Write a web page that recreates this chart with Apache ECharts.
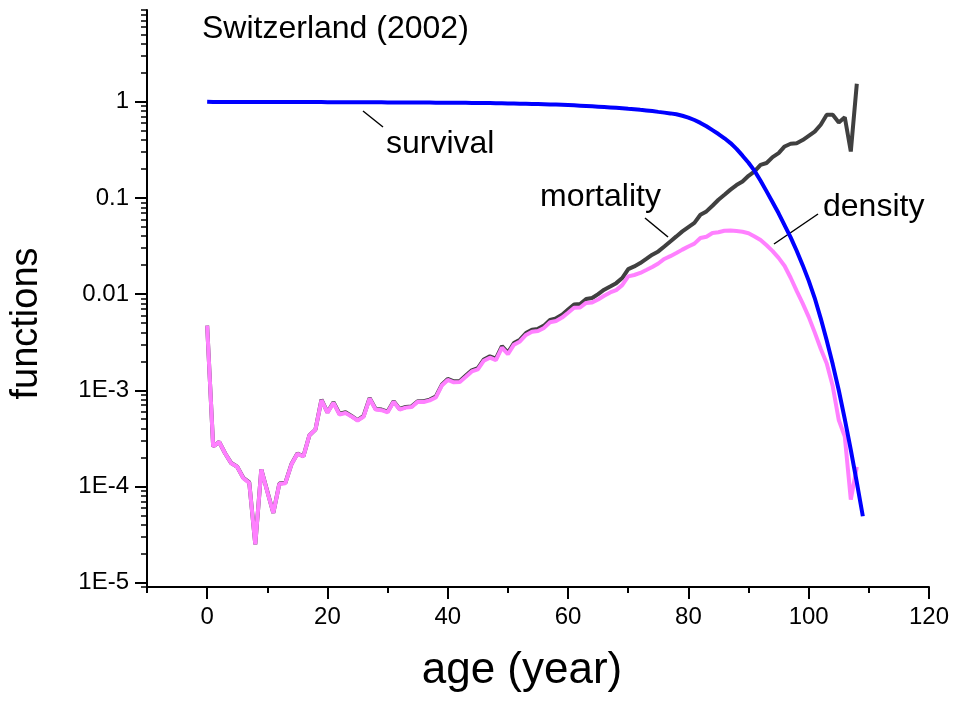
<!DOCTYPE html>
<html>
<head>
<meta charset="utf-8">
<title>Switzerland (2002)</title>
<script src="https://cdn.jsdelivr.net/npm/echarts@6/dist/echarts.min.js"></script>
<style>
  html, body { margin: 0; padding: 0; background: #fff; }
  #chart { width: 958px; height: 702px; }
</style>
</head>
<body>
<div id="chart"></div>
<script>
// ages 0..N, one value per year of age
const survival = [
  1.0, 0.9955, 0.9952, 0.9949, 0.9947, 0.9945, 0.9944, 0.9943, 0.9942, 0.9941,
  0.9940, 0.9939, 0.9938, 0.9937, 0.9935, 0.9933, 0.9931, 0.9928, 0.9924, 0.9918,
  0.9911, 0.9905, 0.9899, 0.9893, 0.9888, 0.9883, 0.9878, 0.9871, 0.9865, 0.9859,
  0.9853, 0.9846, 0.9840, 0.9833, 0.9826, 0.9818, 0.9811, 0.9803, 0.9795, 0.9784,
  0.978, 0.977, 0.976, 0.975, 0.973, 0.972, 0.970, 0.968, 0.966, 0.964,
  0.962, 0.959, 0.956, 0.953, 0.950, 0.947, 0.943, 0.939, 0.935, 0.930,
  0.925, 0.918, 0.911, 0.904, 0.897, 0.889, 0.881, 0.873, 0.865, 0.855,
  0.845, 0.836, 0.824, 0.813, 0.800, 0.785, 0.771, 0.757, 0.741, 0.716,
  0.684, 0.646, 0.603, 0.556, 0.507, 0.462, 0.417, 0.372, 0.324, 0.275,
  0.232, 0.191, 0.151, 0.117, 0.0902, 0.0692, 0.0519, 0.0389, 0.0282, 0.0200,
  0.0138, 0.0091, 0.0056, 0.0033, 0.00186, 0.0010, 5.0e-4, 2.4e-4, 1.1e-4, 4.9e-5
];

const mortality = [
  4.7e-3, 2.6e-4, 2.9e-4, 2.2e-4, 1.75e-4, 1.6e-4, 1.23e-4, 1.1e-4, 2.5e-5, 1.5e-4,
  8.9e-5, 5.3e-5, 1.07e-4, 1.09e-4, 1.7e-4, 2.2e-4, 2.06e-4, 3.4e-4, 3.9e-4, 8.0e-4,
  5.9e-4, 7.5e-4, 5.7e-4, 5.9e-4, 5.4e-4, 4.9e-4, 5.4e-4, 8.3e-4, 6.4e-4, 6.3e-4,
  6.0e-4, 7.7e-4, 6.4e-4, 6.7e-4, 6.8e-4, 7.7e-4, 7.7e-4, 8.0e-4, 8.6e-4, 1.14e-3,
  1.31e-3, 1.24e-3, 1.25e-3, 1.42e-3, 1.61e-3, 1.7e-3, 2.09e-3, 2.25e-3, 2.13e-3, 2.87e-3,
  2.46e-3, 3.1e-3, 3.36e-3, 3.94e-3, 4.27e-3, 4.35e-3, 4.7e-3, 5.4e-3, 5.6e-3, 6.1e-3,
  6.9e-3, 7.8e-3, 7.9e-3, 8.9e-3, 9.1e-3, 0.0100, 0.0111, 0.0120, 0.0130, 0.0147,
  0.0182, 0.0194, 0.0210, 0.0232, 0.0257, 0.0278, 0.0313, 0.0353, 0.0398, 0.0449,
  0.0498, 0.0550, 0.0669, 0.0724, 0.0830, 0.0958, 0.108, 0.122, 0.136, 0.148,
  0.170, 0.189, 0.221, 0.231, 0.266, 0.292, 0.343, 0.366, 0.371, 0.400,
  0.443, 0.490, 0.577, 0.733, 0.733, 0.610, 0.690, 0.304, 1.54
];

const density = [
  4.7e-3, 2.6e-4, 2.9e-4, 2.2e-4, 1.74e-4, 1.6e-4, 1.22e-4, 1.09e-4, 2.5e-5, 1.5e-4,
  8.8e-5, 5.3e-5, 1.06e-4, 1.08e-4, 1.69e-4, 2.19e-4, 2.05e-4, 3.4e-4, 3.9e-4, 7.9e-4,
  5.85e-4, 7.4e-4, 5.6e-4, 5.8e-4, 5.35e-4, 4.85e-4, 5.3e-4, 8.2e-4, 6.3e-4, 6.2e-4,
  5.9e-4, 7.6e-4, 6.3e-4, 6.6e-4, 6.7e-4, 7.6e-4, 7.55e-4, 7.85e-4, 8.4e-4, 1.12e-3,
  1.28e-3, 1.21e-3, 1.22e-3, 1.38e-3, 1.57e-3, 1.65e-3, 2.03e-3, 2.18e-3, 2.06e-3, 2.77e-3,
  2.37e-3, 2.98e-3, 3.22e-3, 3.76e-3, 4.06e-3, 4.13e-3, 4.45e-3, 5.1e-3, 5.25e-3, 5.7e-3,
  6.4e-3, 7.2e-3, 7.25e-3, 8.1e-3, 8.2e-3, 8.8e-3, 9.6e-3, 0.0104, 0.0110, 0.0124,
  0.0153, 0.0158, 0.0166, 0.0178, 0.0191, 0.0208, 0.0232, 0.0248, 0.0267, 0.0290,
  0.0313, 0.0335, 0.0383, 0.0395, 0.0432, 0.0440, 0.0456, 0.0458, 0.0452, 0.0445,
  0.0430, 0.0398, 0.0365, 0.0322, 0.0280, 0.0238, 0.0196, 0.0148, 0.0108, 0.0080,
  0.0058, 0.0040, 0.0027, 0.0019, 0.0011, 4.9e-4, 3.3e-4, 7.3e-5, 1.6e-4
];

const xMajorTicks = [0, 20, 40, 60, 80, 100, 120];
const xMinorTicks = [-10, 10, 30, 50, 70, 90, 110];
const yMajorTicks = [1e-5, 1e-4, 1e-3, 0.01, 0.1, 1];
const yTickLabels = ['1E-5', '1E-4', '1E-3', '0.01', '0.1', '1'];

const FONT = '"Liberation Sans", Arial, Helvetica, sans-serif';

// minor log ticks 2..9 of every decade in view
const yMinorTicks = [];
for (let d = -6; d <= 0; d++) {
  for (let k = 2; k <= 9; k++) {
    const v = k * Math.pow(10, d);
    if (v >= 9e-6 && v <= 9) yMinorTicks.push(v);
  }
}

const toPairs = arr => arr.map((v, i) => [i, v]);

const chart = echarts.init(document.getElementById('chart'));

const option = {
  backgroundColor: '#fff',
  animation: false,
  textStyle: { fontFamily: FONT },
  grid: { left: 146, right: 29, top: 10, bottom: 115 },
  xAxis: [
    {
      type: 'value',
      min: -10,
      max: 120,
      position: 'bottom',
      name: 'age (year)',
      nameLocation: 'middle',
      nameGap: 62,
      nameTextStyle: { fontSize: 44, color: '#000', fontFamily: FONT, padding: [0, 32, 0, 0] },
      axisLine: { onZero: false, lineStyle: { color: '#000', width: 2 } },
      axisTick: { customValues: xMajorTicks, length: 12, lineStyle: { color: '#000', width: 2 } },
      axisLabel: { customValues: xMajorTicks, fontSize: 24, color: '#000', margin: 18, fontFamily: FONT },
      splitLine: { show: false }
    },
    {
      type: 'value',
      min: -10,
      max: 120,
      position: 'bottom',
      axisLine: { show: false, onZero: false },
      axisTick: { customValues: xMinorTicks, length: 6, lineStyle: { color: '#000', width: 2 } },
      axisLabel: { show: false },
      splitLine: { show: false }
    }
  ],
  yAxis: [
    {
      type: 'log',
      logBase: 10,
      min: 9e-6,
      max: 9,
      position: 'left',
      name: 'functions',
      nameLocation: 'middle',
      nameGap: 101,
      nameTextStyle: { fontSize: 38, color: '#000', fontFamily: FONT, padding: [0, 50, 0, 0] },
      axisLine: { show: true, onZero: false, lineStyle: { color: '#000', width: 2 } },
      axisTick: { customValues: yMajorTicks, length: 12, lineStyle: { color: '#000', width: 2 } },
      axisLabel: {
        customValues: yMajorTicks,
        fontSize: 24,
        color: '#000',
        margin: 18,
        fontFamily: FONT,
        formatter: v => {
          const i = yMajorTicks.findIndex(t => Math.abs(Math.log10(t) - Math.log10(v)) < 1e-6);
          return i >= 0 ? yTickLabels[i] : '';
        }
      },
      splitLine: { show: false }
    },
    {
      type: 'log',
      logBase: 10,
      min: 9e-6,
      max: 9,
      position: 'left',
      axisLine: { show: false, onZero: false },
      axisTick: { customValues: yMinorTicks, length: 6, lineStyle: { color: '#000', width: 1.5 } },
      axisLabel: { show: false },
      splitLine: { show: false }
    }
  ],
  series: [
    {
      name: 'mortality',
      type: 'line',
      showSymbol: false,
      lineStyle: { color: '#404040', width: 4 },
      data: toPairs(mortality)
    },
    {
      name: 'density',
      type: 'line',
      showSymbol: false,
      lineStyle: { color: '#ff80ff', width: 4 },
      data: toPairs(density)
    },
    {
      name: 'survival',
      type: 'line',
      showSymbol: false,
      lineStyle: { color: '#0000ff', width: 4 },
      data: toPairs(survival)
    }
  ],
  graphic: [
    { type: 'text', left: 202, top: 13, style: { text: 'Switzerland (2002)', fill: '#000', font: '32px ' + FONT } },
    { type: 'text', left: 386, top: 128, style: { text: 'survival', fill: '#000', font: '32px ' + FONT } },
    { type: 'text', left: 540, top: 181, style: { text: 'mortality', fill: '#000', font: '32px ' + FONT } },
    { type: 'text', left: 823, top: 191, style: { text: 'density', fill: '#000', font: '32px ' + FONT } },
    { type: 'line', shape: { x1: 363, y1: 111, x2: 383, y2: 127 }, style: { stroke: '#000', lineWidth: 1.5 } },
    { type: 'line', shape: { x1: 645, y1: 218, x2: 668, y2: 237 }, style: { stroke: '#000', lineWidth: 1.5 } },
    { type: 'line', shape: { x1: 818, y1: 214, x2: 774, y2: 244 }, style: { stroke: '#000', lineWidth: 1.5 } }
  ]
};

chart.setOption(option);
</script>
</body>
</html>
